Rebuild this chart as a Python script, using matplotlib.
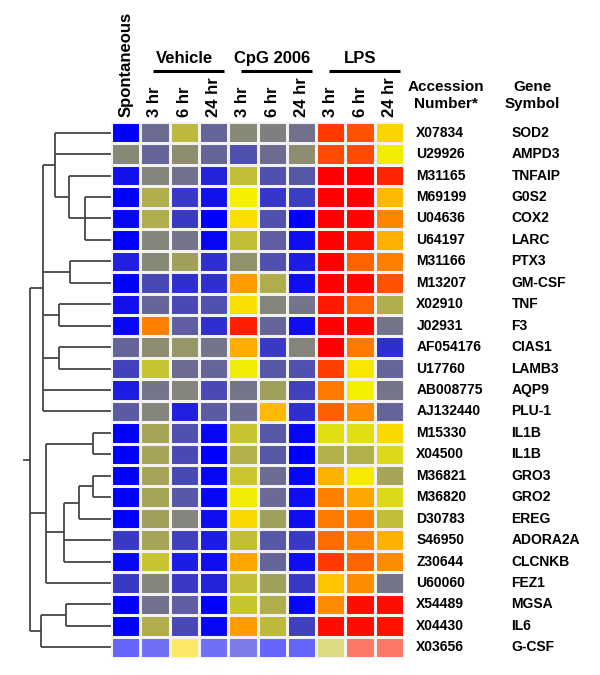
import matplotlib
matplotlib.use("Agg")
import matplotlib.pyplot as plt
import numpy as np
from matplotlib.colors import LinearSegmentedColormap, Normalize

plt.rcParams['font.family'] = ['Liberation Sans', 'DejaVu Sans']
plt.rcParams['font.weight'] = 'bold'

conditions = ["Spontaneous", "3 hr", "6 hr", "24 hr", "3 hr", "6 hr", "24 hr", "3 hr", "6 hr", "24 hr"]
groups = ["Vehicle", "CpG 2006", "LPS"]
group_cols = [(1, 3), (4, 6), (7, 9)]

accession = ["X07834", "U29926", "M31165", "M69199", "U04636", "U64197", "M31166", "M13207",
             "X02910", "J02931", "AF054176", "U17760", "AB008775", "AJ132440", "M15330", "X04500",
             "M36821", "M36820", "D30783", "S46950", "Z30644", "U60060", "X54489", "X04430", "X03656"]
genes = ["SOD2", "AMPD3", "TNFAIP", "G0S2", "COX2", "LARC", "PTX3", "GM-CSF", "TNF", "F3",
         "CIAS1", "LAMB3", "AQP9", "PLU-1", "IL1B", "IL1B", "GRO3", "GRO2", "EREG", "ADORA2A",
         "CLCNKB", "FEZ1", "MGSA", "IL6", "G-CSF"]

# expression level on a 0 (blue) .. 35 (grey) .. 60 (yellow) .. 100 (red) scale
levels = [
    [0, 30, 48, 28, 37, 35, 31, 91, 87, 66],
    [37, 28, 38, 28, 22, 30, 38, 88, 88, 59],
    [5, 36, 31, 10, 49, 22, 24, 100, 100, 94],
    [0, 45, 16, 5, 60, 15, 17, 100, 100, 71],
    [2, 45, 16, 0, 64, 22, 0, 100, 99, 79],
    [0, 36, 32, 2, 49, 26, 4, 100, 97, 72],
    [9, 37, 42, 13, 39, 22, 8, 100, 84, 80],
    [0, 20, 13, 13, 75, 45, 4, 100, 99, 87],
    [5, 28, 20, 22, 64, 36, 32, 96, 85, 45],
    [2, 80, 26, 13, 95, 28, 4, 100, 99, 32],
    [28, 38, 40, 32, 73, 16, 36, 100, 81, 13],
    [18, 50, 30, 28, 59, 24, 22, 90, 62, 28],
    [8, 32, 36, 20, 32, 42, 18, 81, 60, 32],
    [25, 36, 9, 25, 30, 71, 13, 85, 78, 28],
    [0, 43, 22, 2, 50, 24, 2, 56, 56, 65],
    [0, 43, 20, 0, 46, 24, 0, 46, 46, 55],
    [0, 43, 20, 2, 51, 30, 2, 72, 61, 43],
    [0, 43, 24, 2, 59, 29, 4, 80, 74, 55],
    [0, 42, 36, 4, 65, 42, 4, 81, 80, 49],
    [16, 43, 18, 8, 49, 24, 16, 83, 79, 72],
    [2, 50, 8, 4, 74, 28, 4, 91, 84, 78],
    [16, 36, 16, 10, 49, 42, 16, 69, 78, 32],
    [0, 31, 26, 0, 50, 45, 2, 78, 98, 98],
    [0, 45, 20, 2, 75, 48, 18, 98, 98, 97],
    [0, 5, 65, 5, 10, 0, 0, 50, 95, 95],
]
faded_rows = [24]

# dendrogram: node -> (height, children); ints are row indices
tree = {
    "A": (26, [3, 4, 5]),
    "B": (42, [2, "A"]),
    "D": (56, [0, 1, "B"]),
    "C": (41, [6, 7]),
    "n910": (52, [8, 9]),
    "n1112": (52, [10, 11]),
    "E": (68, ["D", "C", "n910", "n1112", 12, 13]),
    "n1516": (18, [14, 15]),
    "n1718": (18, [16, 17]),
    "H": (32, ["n1718", 18]),
    "G": (47, ["H", 19, 20]),
    "F": (65, ["n1516", "G", 21]),
    "K": (45, [22, 23]),
    "L": (70, ["K", 24]),
    "root": (81, ["E", "F", "L"]),
}

W, H = 600, 675
fig = plt.figure(figsize=(W / 100, H / 100), dpi=100)

hx0, hx1, hy0, hy1 = 111, 404, 122, 658
nrow, ncol = len(levels), len(conditions)
ax = fig.add_axes([hx0 / W, 1 - hy1 / H, (hx1 - hx0) / W, (hy1 - hy0) / H])

cmap = LinearSegmentedColormap.from_list("bgyr", [
    (0.0, "#0000ff"), (0.35, "#808080"), (0.60, "#f5f000"),
    (0.68, "#ffcc00"), (0.80, "#ff8000"), (1.0, "#ff0000")])
norm = Normalize(0, 100)
vals = np.array(levels, dtype=float)
colors = cmap(norm(vals))
for r in faded_rows:
    colors[r, :, :3] = colors[r, :, :3] * 0.6 + 0.4
ax.imshow(colors, aspect="auto", extent=(0, ncol, nrow, 0), interpolation="nearest")
for i in range(nrow + 1):
    ax.axhline(i, color="#f2f2f2", lw=2.2)
for j in range(ncol + 1):
    ax.axvline(j, color="#f2f2f2", lw=2.2)
ax.set_xlim(0, ncol)
ax.set_ylim(nrow, 0)
ax.axis("off")

# column labels
for j, c in enumerate(conditions):
    ax.text(j + 0.5, -0.25, c, rotation=90, ha="center", va="bottom", fontsize=12,
            fontweight="bold", clip_on=False)
for g, (a, b) in zip(groups, group_cols):
    ax.text((a + b + 1) / 2, -2.95, g, ha="center", va="center", fontsize=12,
            fontweight="bold", clip_on=False)
    ax.plot([a + 0.45, b + 1 - 0.15], [-2.38, -2.38], color="black", lw=2.2,
            clip_on=False, solid_capstyle="butt")

ax.text(11.42, -1.63, "Accession", ha="center", va="center", fontsize=11, clip_on=False)
ax.text(11.42, -0.84, "Number*", ha="center", va="center", fontsize=11, clip_on=False)
ax.text(14.37, -1.63, "Gene", ha="center", va="center", fontsize=11, clip_on=False)
ax.text(14.37, -0.84, "Symbol", ha="center", va="center", fontsize=11, clip_on=False)
for i, (acc, g) in enumerate(zip(accession, genes)):
    ax.text(10.42, i + 0.5, acc, ha="left", va="center", fontsize=10, clip_on=False)
    ax.text(13.67, i + 0.5, g, ha="left", va="center", fontsize=10, clip_on=False)

# dendrogram
axd = fig.add_axes([0, 1 - hy1 / H, hx0 / W, (hy1 - hy0) / H])
axd.set_xlim(111, 0)
axd.set_ylim(nrow, 0)
axd.axis("off")
lc = "#454545"


def place(node):
    if isinstance(node, int):
        return node + 0.5, 0.0
    h, kids = tree[node]
    ys = []
    for k in kids:
        ky, kh = place(k)
        axd.plot([kh, h], [ky, ky], color=lc, lw=1.3, solid_capstyle="butt")
        ys.append(ky)
    axd.plot([h, h], [min(ys), max(ys)], color=lc, lw=1.3, solid_capstyle="butt")
    return (min(ys) + max(ys)) / 2, h


ry, rh = place("root")
axd.plot([rh, rh + 6], [ry, ry], color=lc, lw=1.3)

fig.savefig("out.png", dpi=100, facecolor="white")
